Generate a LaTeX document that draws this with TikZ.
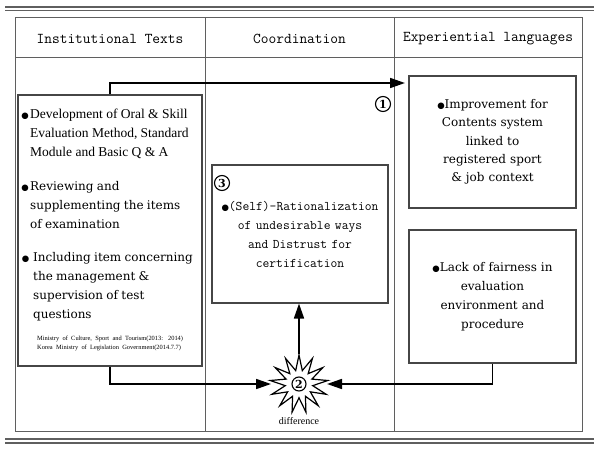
\documentclass[tikz,border=0pt]{standalone}
\usepackage{fontspec}
\setmainfont{DejaVu Serif}
\newfontfamily\timesfont{Liberation Serif}
\newfontfamily\symfont{DejaVu Sans}
\usepackage{xcolor}
\definecolor{rulegray}{RGB}{95,95,95}
\definecolor{boxgray}{RGB}{70,70,70}
\usetikzlibrary{arrows.meta, positioning, shapes.geometric, calc}
\newcommand{\bul}{{\symfont\fontsize{8.5}{8.5}\selectfont ●}}

\begin{document}
\begin{tikzpicture}[x=1pt, y=-1pt,
  tableline/.style={draw=rulegray, line width=0.9pt},
  textbox/.style={draw=boxgray, line width=1.1pt, fill=white, inner sep=0pt},
  conn/.style={line width=1.7pt, -{Triangle[length=15pt, width=10pt]}},
  circnum/.style={circle, draw, line width=1.1pt, inner sep=0pt, minimum size=15pt, font=\fontsize{11}{11}\selectfont\bfseries},
  head/.style={font=\ttfamily\fontsize{15}{16}\selectfont}
]
  \useasboundingbox (0,0) rectangle (600,455);

  % Double rules above and below
  \draw[rulegray, line width=1.2pt] (5,7) -- (594,7);
  \draw[rulegray, line width=0.8pt] (5,10) -- (594,10);
  \draw[rulegray, line width=1.2pt] (5,439) -- (594,439);
  \draw[rulegray, line width=1.2pt] (5,443) -- (594,443);

  % Table frame, header row and columns
  \draw[tableline] (15,17) rectangle (582,431);
  \draw[tableline] (15,57) -- (582,57);
  \draw[tableline] (205,17) -- (205,431);
  \draw[tableline] (394,17) -- (394,431);

  % Column headers
  \node[head] (h1) at (110,39) {Institutional Texts};
  \node[head] (h2) at (299.5,39) {Coordination};
  \node[head] (h3) at (488,39) {Experiential languages};

  % Left box with the institutional texts
  \node[textbox, minimum width=184, minimum height=271] (lbox) at (110,230.5) {};
  \node[anchor=west, text width=172, align=left, inner sep=0pt] (ltext) at (30,229.5) {%
    \timesfont\fontsize{13.5}{19}\selectfont
    \leavevmode\llap{\bul\hspace{1.5pt}}Development of Oral \& Skill\\
    Evaluation Method, Standard\\
    Module and Basic Q \& A\par
    \vspace{15pt}
    \rmfamily\fontsize{12}{19}\selectfont
    \leavevmode\llap{\bul\hspace{1.5pt}}Reviewing and\\
    supplementing the items\\
    of examination\par
    \vspace{14pt}
    \hspace*{3pt}\llap{\bul\hspace{4pt}}Including item concerning\\
    \hspace*{3pt}the management \&\\
    \hspace*{3pt}supervision of test\\
    \hspace*{3pt}questions\par
    \vspace{13pt}
    \timesfont\fontsize{6.4}{9}\selectfont
    \hspace*{7pt}Ministry of Culture, Sport and Tourism(2013: 2014)\\
    \hspace*{7pt}Korea Ministry of Legislation Government(2014.7.7)\par
  };

  % Coordination box
  \node[textbox, minimum width=176, minimum height=138, text width=170, align=center,
    font=\ttfamily\fontsize{13.2}{19}\selectfont] (cbox) at (300,234)
    {\bul(Self)-Rationalization\\ of undesirable ways\\ and Distrust for\\ certification};
  \node[circnum] (n3) at (222,183) {3};

  % Experiential boxes
  \node[textbox, minimum width=167, minimum height=132, text width=160, align=center,
    font=\fontsize{12}{18.3}\selectfont] (rbox1) at (492.5,142)
    {\bul Improvement for\\ Contents system\\ linked to\\ registered sport\\ \& job context};
  \node[textbox, minimum width=167, minimum height=133, text width=160, align=center,
    font=\fontsize{12}{19}\selectfont] (rbox2) at (492.5,296.5)
    {\bul Lack of fairness in\\ evaluation\\ environment and\\ procedure};

  % Difference star
  \node[star, star points=13, star point ratio=2.1, minimum size=58, draw, line width=1.2pt,
    fill=white, inner sep=0pt] (star) at (299,384) {};
  \node[circnum, minimum size=14pt] (n2) at (star.center) {2};
  \node[font=\timesfont\fontsize{10}{10}\selectfont] (difflbl) at (299,421) {difference};

  % Connectors
  \coordinate (tip1) at (405,83);
  \draw[conn] (lbox.north) |- (tip1);
  \node[circnum] (n1) at (383,104) {1};
  \draw[conn, shorten >=28pt] (lbox.south) |- (star.center);
  \draw[conn, shorten >=28pt] (rbox2.south) |- (star.center);
  \draw[conn, shorten <=30pt] (star.center) -- (star.center |- cbox.south);

\end{tikzpicture}
\end{document}
